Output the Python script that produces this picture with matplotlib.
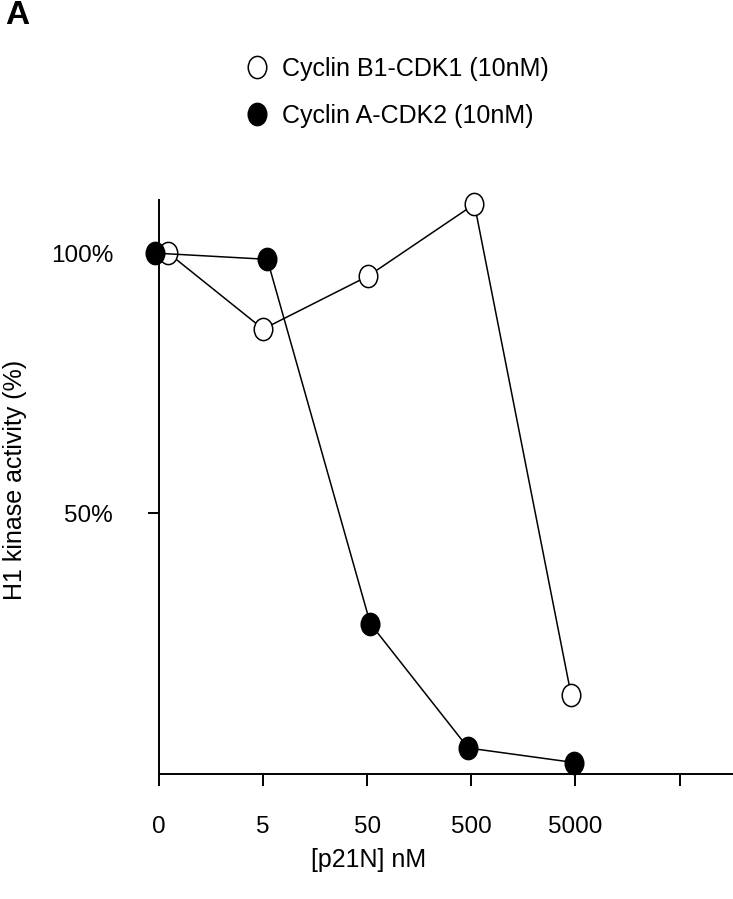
import numpy as np
import matplotlib
matplotlib.use('Agg')
import matplotlib.pyplot as plt
from matplotlib.path import Path
from matplotlib.lines import Line2D

plt.rcParams['font.family'] = ['Liberation Sans', 'DejaVu Sans']

# data (x in tick-index units, y in %)
x_ticks = [0, 1, 2, 3, 4, 5]
x_labels = ['0', '5', '50', '500', '5000', '']
b1_x = [0.09, 1.0, 2.01, 3.03, 3.96]
b1_y = [100.0, 85.4, 95.6, 109.4, 15.0]
a_x = [-0.04, 1.04, 2.03, 2.97, 3.99]
a_y = [100.0, 98.8, 28.8, 4.9, 2.1]
labels = ['Cyclin B1-CDK1 (10nM)', 'Cyclin A-CDK2 (10nM)']

# slightly tall ellipse marker like the scanned original
circ = Path.unit_circle()
ell = Path(circ.vertices * np.array([1.0, 1.2]), circ.codes)

W, H = 733, 899
fig = plt.figure(figsize=(W / 100, H / 100), dpi=100)
ax = fig.add_axes([159 / W, 1 - 773.5 / H, (W - 159) / W, (773.5 - 200) / H])

ms = 16
ax.plot(b1_x, b1_y, color='black', lw=1.1, marker=ell, ms=ms,
        mfc='white', mec='black', mew=1.1, clip_on=False, zorder=3)
ax.plot(a_x, a_y, color='black', lw=1.1, marker=ell, ms=ms,
        mfc='black', mec='black', mew=1.1, clip_on=False, zorder=4)

ax.set_xlim(0, (W - 159) / 104.1)
ax.set_ylim(0, 110.2)
ax.set_xticks(x_ticks)
ax.set_xticklabels(x_labels)
ax.set_yticks([50, 100])
ax.set_yticklabels(['50%', '100%'])

for s in ['top', 'right']:
    ax.spines[s].set_visible(False)
for s in ['left', 'bottom']:
    ax.spines[s].set_linewidth(1.4)
ax.tick_params(axis='x', length=8.5, width=1.4, pad=22, labelsize=17.5)
ax.tick_params(axis='y', length=8, width=1.4, pad=25, labelsize=17.5)

ax.set_xlabel('[p21N] nM', fontsize=18)
ax.set_ylabel('H1 kinase activity (%)', fontsize=18)
ax.yaxis.set_label_coords(-132 / (W - 159), 0.512)
ax.xaxis.set_label_coords(0.365, -0.1305)

handles = [Line2D([], [], ls='none', marker=ell, ms=ms, mfc='white', mec='black', mew=1.1),
           Line2D([], [], ls='none', marker=ell, ms=ms, mfc='black', mec='black', mew=1.1)]
fig.legend(handles, labels, loc='upper left', bbox_to_anchor=(247 / W, 1 - 57 / H),
           frameon=False, fontsize=18, handlelength=0.8, handletextpad=0.6,
           borderpad=0, borderaxespad=0, labelspacing=0.92)

fig.text(5 / W, 1 - 16 / H, 'A', fontsize=24, fontweight='bold', va='center', ha='left')

fig.savefig('out.png', dpi=100)
